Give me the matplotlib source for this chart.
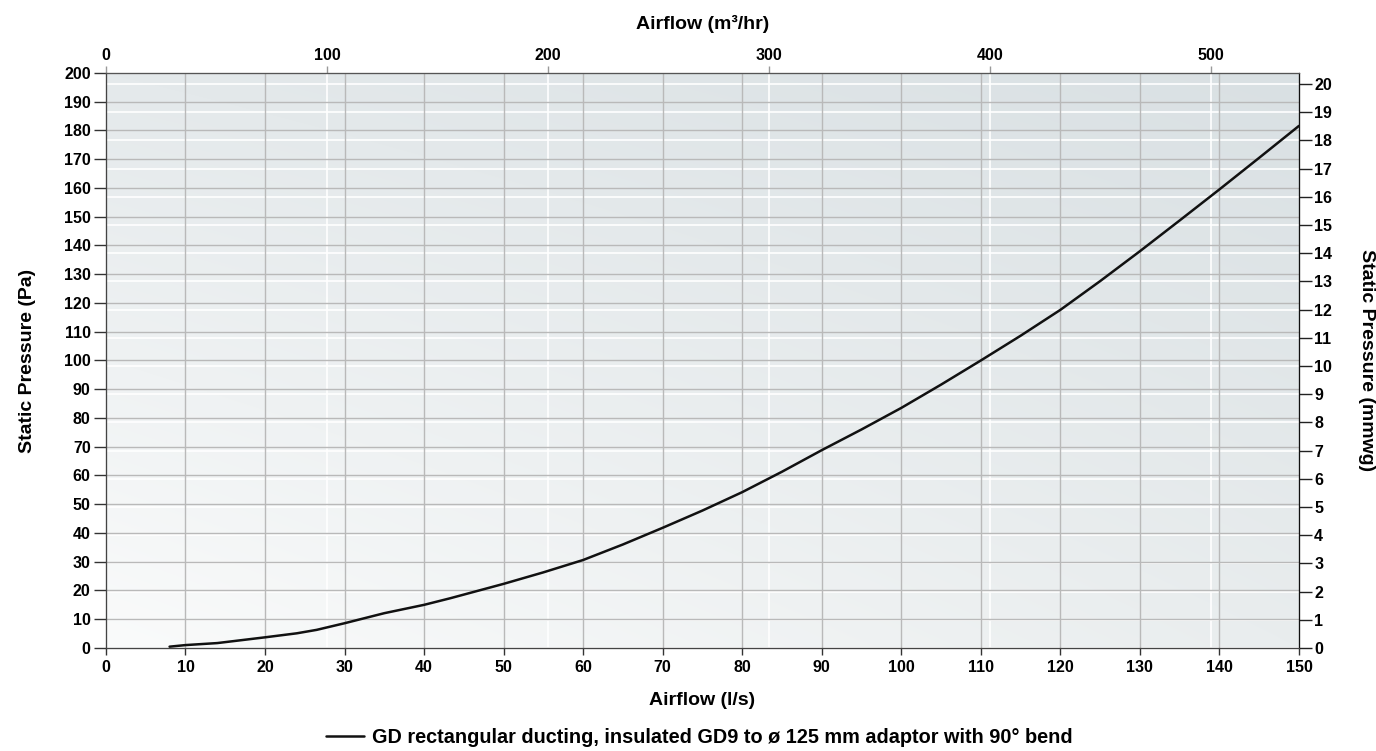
import numpy as np
import matplotlib
matplotlib.use('Agg')
import matplotlib.pyplot as plt
from matplotlib.colors import to_rgb

plt.rcParams['font.family'] = ['Liberation Sans', 'DejaVu Sans']
plt.rcParams['font.weight'] = 'bold'

# Curve: airflow (l/s) vs static pressure (Pa)
airflow_ls = [8, 10, 14, 20, 24, 26.5, 30, 35, 40, 43.3, 50, 55, 60, 65, 70, 75, 80, 85, 90, 95, 100,
              105, 110, 115, 120, 125, 130, 135, 140, 145, 150]
pressure_pa = [0.45, 1.0, 1.7, 3.7, 5.1, 6.3, 8.6, 12.1, 15.0, 17.3, 22.3, 26.3, 30.6, 36.0, 41.8, 47.8, 54.2, 61.3,
               68.8, 76.0, 83.5, 91.6, 100.0, 108.6, 117.6, 127.6, 138.0, 148.7, 159.5, 170.5, 181.6]
series_label = 'GD rectangular ducting, insulated GD9 to ø 125 mm adaptor with 90° bend'

x_ticks = np.arange(0, 151, 10)
y_ticks = np.arange(0, 201, 10)
top_ticks = np.arange(0, 501, 100)      # m³/hr
right_ticks = np.arange(0, 21, 1)       # mmwg

LS_TO_M3H = 3.6
PA_PER_MMWG = 9.80665

fig = plt.figure(figsize=(13.76, 7.51), dpi=100)
ax = fig.add_axes([0.0770, 0.1372, 0.8670, 0.7656])
ax.set_xlim(0, 150)
ax.set_ylim(0, 200)

# gradient background (bilinear between corner colours)
bl, br = np.array(to_rgb('#fafbfb')), np.array(to_rgb('#e9edee'))
tl, tr = np.array(to_rgb('#e4e9eb')), np.array(to_rgb('#d9e0e3'))
u = np.linspace(0, 1, 256)[None, :, None]
v = np.linspace(0, 1, 256)[:, None, None]
bg = (1 - u) * (1 - v) * bl + u * (1 - v) * br + (1 - u) * v * tl + u * v * tr
ax.imshow(bg, extent=[0, 1, 0, 1], transform=ax.transAxes, origin='lower',
          aspect='auto', zorder=0, interpolation='bilinear')

# white grid lines for the secondary scales
for t in top_ticks:
    ax.axvline(t / LS_TO_M3H, color='white', lw=1.2, zorder=1)
for t in right_ticks:
    ax.axhline(t * PA_PER_MMWG, color='white', lw=1.2, zorder=1)

# grey grid for the primary scales
for t in x_ticks[1:-1]:
    ax.axvline(t, color='#b9b9b9', lw=1.0, zorder=2)
for t in y_ticks[1:-1]:
    ax.axhline(t, color='#b9b9b9', lw=1.0, zorder=2)

ax.plot(airflow_ls, pressure_pa, color='#111111', lw=1.8, zorder=3,
        solid_capstyle='round', solid_joinstyle='round', label=series_label)

ax.set_xticks(x_ticks)
ax.set_yticks(y_ticks)
ax.tick_params(axis='y', length=9, width=1, color='#333333', labelsize=11.5, pad=2)
ax.tick_params(axis='x', length=5, width=1, color='#333333', labelsize=11.5, pad=4)
for lab in ax.get_xticklabels() + ax.get_yticklabels():
    lab.set_fontweight('bold')
for s in ['left', 'bottom']:
    ax.spines[s].set_color('#444444')
ax.spines['top'].set_color('#555555')
ax.spines['right'].set_color('#111111')
ax.set_xlabel('Airflow (l/s)', fontsize=14, fontweight='bold', labelpad=12)
ax.set_ylabel('Static Pressure (Pa)', fontsize=14, fontweight='bold', labelpad=20)

# top axis: m³/hr
axt = ax.twiny()
axt.set_xlim(0, 150 * LS_TO_M3H)
axt.set_xticks(top_ticks)
axt.tick_params(axis='x', length=5, width=1, color='#999999', labelsize=11.5, pad=2)
for lab in axt.get_xticklabels():
    lab.set_fontweight('bold')
axt.set_xlabel('Airflow (m³/hr)', fontsize=14, fontweight='bold', labelpad=14)
axt.patch.set_visible(False)

# right axis: mmwg
axr = ax.twinx()
axr.set_ylim(0, 200 / PA_PER_MMWG)
axr.set_yticks(right_ticks)
axr.tick_params(axis='y', length=9, width=1, color='#222222', labelsize=11.5, pad=2)
for lab in axr.get_yticklabels():
    lab.set_fontweight('bold')
axr.set_ylabel('Static Pressure (mmwg)', fontsize=14, fontweight='bold',
               rotation=-90, labelpad=31)
axr.patch.set_visible(False)
for a in (axt, axr):
    a.spines['top'].set_color('#555555')
    a.spines['right'].set_color('#111111')
    a.spines['left'].set_color('#444444')
    a.spines['bottom'].set_color('#444444')

fig.legend(*ax.get_legend_handles_labels(), loc='center', bbox_to_anchor=(0.508, 0.018),
           frameon=False, handlelength=1.9, handletextpad=0.4,
           prop={'weight': 'bold', 'size': 14.3})

fig.savefig('out.png', dpi=100)
